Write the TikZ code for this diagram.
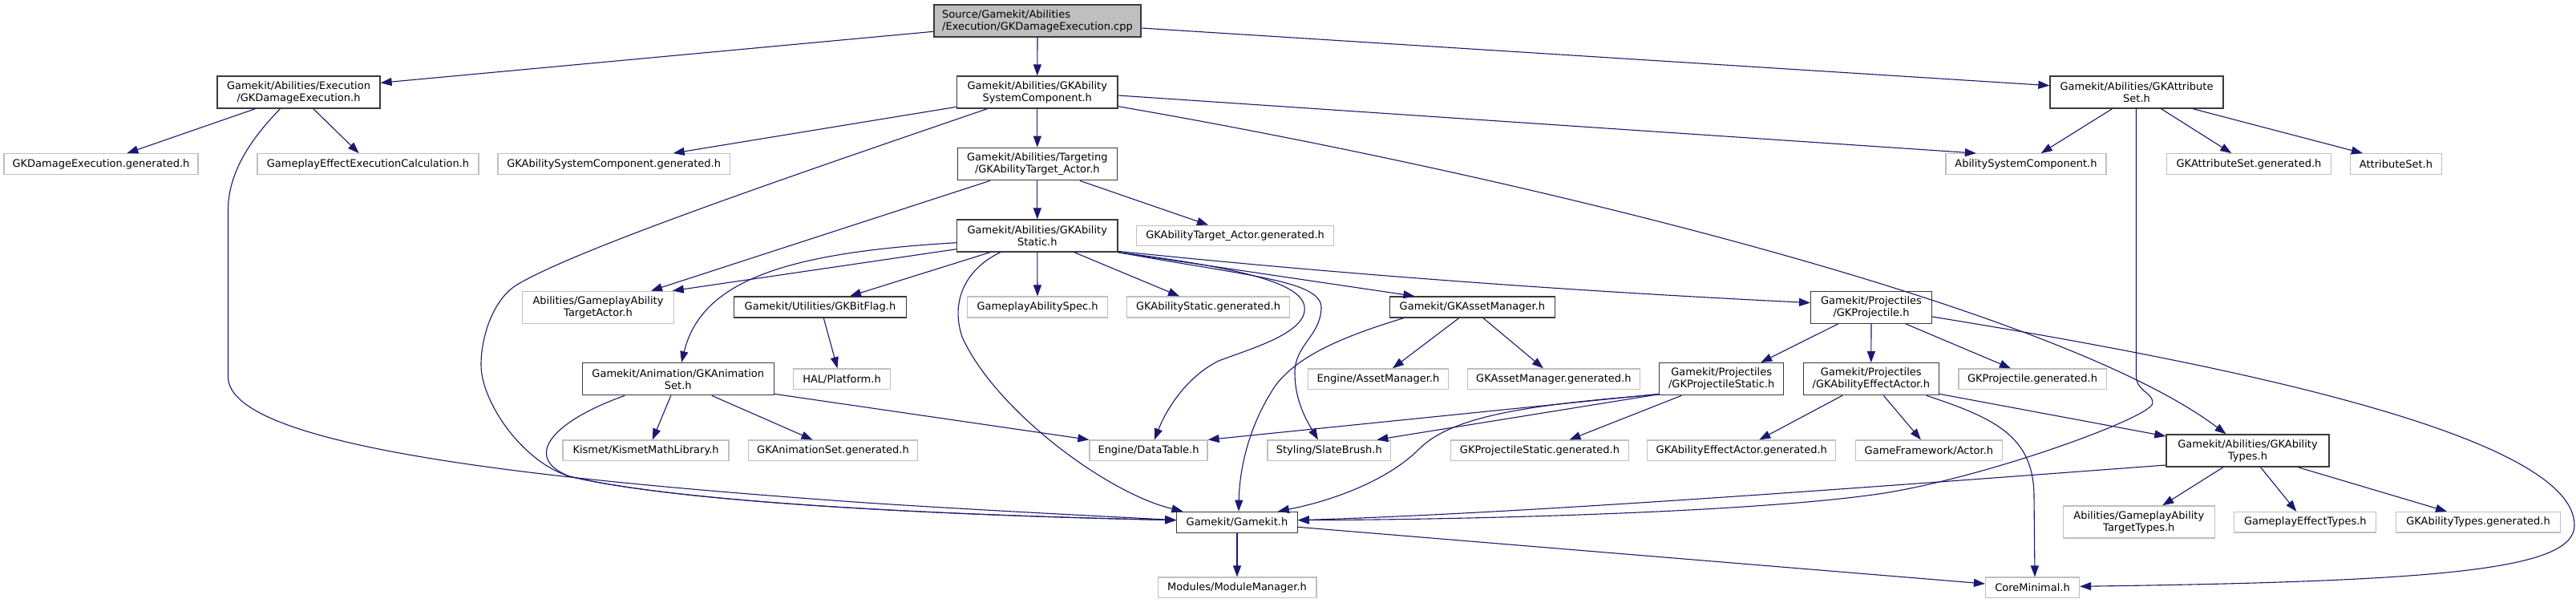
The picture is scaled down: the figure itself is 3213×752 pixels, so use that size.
\documentclass[tikz,border=0pt]{standalone}
\usepackage{fontspec}
\setmainfont{DejaVu Sans}
\usetikzlibrary{arrows.meta,calc}
\definecolor{edgec}{HTML}{191970}
\definecolor{docc}{HTML}{3A3A3A}
\definecolor{extc}{HTML}{BFBFBF}
\definecolor{rootfill}{HTML}{BFBFBF}
\newcommand{\mknode}[6]{\node[#1, minimum width=#4pt, minimum height=#5pt] (#2) at (#3) {#6};}
\begin{document}
\begin{tikzpicture}[x=1pt,y=-1pt,
  every node/.style={font=\fontsize{13}{15}\selectfont, inner sep=0pt, align=center, text=black},
  docbox/.style={draw=docc, line width=1.3pt, fill=white},
  extbox/.style={draw=extc, line width=1.3pt, fill=white},
  rootbox/.style={draw=docc, line width=1.3pt, fill=rootfill, align=left},
  edge/.style={draw=edgec, line width=1.1pt, -{Triangle[length=14pt,width=10pt]}}]
\fill[white] (0,0) rectangle (3213,752);
\useasboundingbox (0,0) rectangle (3213,752);
% nodes
\mknode{rootbox}{root}{1294,26}{258}{40}{Source/Gamekit/Abilities\\/Execution/GKDamageExecution.cpp}
\mknode{docbox}{DE}{372.5,115}{203}{40}{Gamekit/Abilities/Execution\\/GKDamageExecution.h}
\mknode{docbox}{ASC}{1293.8,115}{200.4}{40}{Gamekit/Abilities/GKAbility\\SystemComponent.h}
\mknode{docbox}{AS}{2665,115}{216}{40}{Gamekit/Abilities/GKAttribute\\Set.h}
\mknode{extbox}{DEgen}{126,204.5}{242}{25.5}{GKDamageExecution.generated.h}
\mknode{extbox}{GEEC}{459,204.5}{276}{25.5}{GameplayEffectExecutionCalculation.h}
\mknode{extbox}{ASCgen}{765.7,204.5}{289.6}{25.5}{GKAbilitySystemComponent.generated.h}
\mknode{extbox}{ASCext}{2527,204.5}{200}{25.5}{AbilitySystemComponent.h}
\mknode{extbox}{ASgen}{2805,204.5}{204.6}{25.5}{GKAttributeSet.generated.h}
\mknode{extbox}{AttrSet}{2988.5,204.5}{113.7}{25.5}{AttributeSet.h}
\mknode{docbox}{TA}{1293.8,204.5}{199}{40.4}{Gamekit/Abilities/Targeting\\/GKAbilityTarget\_Actor.h}
\mknode{extbox}{TAgen}{1540.6,294}{245.6}{25.5}{GKAbilityTarget\_Actor.generated.h}
\mknode{docbox}{Static}{1293.8,294}{200.4}{40}{Gamekit/Abilities/GKAbility\\Static.h}
\mknode{extbox}{GATA}{746,383.3}{188.4}{40}{Abilities/GameplayAbility\\TargetActor.h}
\mknode{docbox}{BitFlag}{1023,383}{215.3}{26}{Gamekit/Utilities/GKBitFlag.h}
\mknode{extbox}{GASpec}{1294,383}{174.6}{26}{GameplayAbilitySpec.h}
\mknode{extbox}{ASgen2}{1507,383}{202.4}{26}{GKAbilityStatic.generated.h}
\mknode{docbox}{AM}{1836.4,383}{205.6}{26}{Gamekit/GKAssetManager.h}
\mknode{docbox}{Proj}{2334,383.3}{150.8}{40}{Gamekit/Projectiles\\/GKProjectile.h}
\mknode{docbox}{AnimSet}{845.8,472.7}{239}{40}{Gamekit/Animation/GKAnimation\\Set.h}
\mknode{extbox}{HAL}{1050,472.7}{120.6}{25.5}{HAL/Platform.h}
\mknode{extbox}{EngAM}{1719,472.7}{175}{25.5}{Engine/AssetManager.h}
\mknode{extbox}{AMgen}{1937.9,472.7}{215}{25.5}{GKAssetManager.generated.h}
\mknode{docbox}{PS}{2147.2,472.7}{155}{40}{Gamekit/Projectiles\\/GKProjectileStatic.h}
\mknode{docbox}{AEA}{2333.8,472.7}{169}{40}{Gamekit/Projectiles\\/GKAbilityEffectActor.h}
\mknode{extbox}{ProjGen}{2535,472.7}{184.3}{25.5}{GKProjectile.generated.h}
\mknode{extbox}{Kismet}{805.6,561.8}{207}{25.5}{Kismet/KismetMathLibrary.h}
\mknode{extbox}{AnimGen}{1039,561.8}{211}{25.5}{GKAnimationSet.generated.h}
\mknode{extbox}{DT}{1432.5,561.8}{147}{25.5}{Engine/DataTable.h}
\mknode{extbox}{SB}{1657.8,561.8}{153.7}{25.5}{Styling/SlateBrush.h}
\mknode{extbox}{PSgen}{1920.5,561.8}{221.5}{25.5}{GKProjectileStatic.generated.h}
\mknode{extbox}{AEAgen}{2172.3,561.8}{235}{25.5}{GKAbilityEffectActor.generated.h}
\mknode{extbox}{Actor}{2405.9,561.8}{182.5}{25.5}{GameFramework/Actor.h}
\mknode{docbox}{Types}{2803.5,562}{203}{40}{Gamekit/Abilities/GKAbility\\Types.h}
\mknode{docbox}{GK}{1543,651.3}{150.5}{26}{Gamekit/Gamekit.h}
\mknode{extbox}{GATT}{2667.8,651}{189}{40}{Abilities/GameplayAbility\\TargetTypes.h}
\mknode{extbox}{GET}{2875.3,651.3}{177}{25.5}{GameplayEffectTypes.h}
\mknode{extbox}{TGen}{3091,651.3}{205.6}{25.5}{GKAbilityTypes.generated.h}
\mknode{extbox}{MM}{1543,732.8}{197.7}{25.5}{Modules/ModuleManager.h}
\mknode{extbox}{CM}{2535,732.8}{117}{25.5}{CoreMinimal.h}
% edges
\draw[edge] ($(root.west)+(0,13.3)$) -- ($(DE.east)+(0,-11.7)$);
\draw[edge] (root.south) -- (ASC.north);
\draw[edge] ($(root.east)+(0,9)$) -- ($(AS.west)+(0,-8.3)$);
\draw[edge] ($(DE.south)+(-54,0)$) -- ($(DEgen.north)+(32.4,0)$);
\draw[edge] ($(DE.south)+(18.3,0)$) -- ($(GEEC.north)+(-11.3,0)$);
\draw[edge] ($(DE.south)+(-23,0)$) .. controls (320,166) and (284.5,210) .. (284.5,262) -- (284.5,470) .. controls (284.5,560) and (700,600) .. (1080,627) .. controls (1250,638) and (1400,645) .. ($(GK.west)+(0,-2.6)$);
\draw[edge] ($(ASC.west)+(0,18.3)$) -- ($(ASCgen.north)+(74,0)$);
\draw[edge] (ASC.south) -- (TA.north);
\draw[edge] ($(ASC.east)+(0,4)$) -- ($(ASCext.north)+(-62.2,0)$);
\draw[edge] ($(ASC.east)+(0,17.7)$) .. controls (1900,220) and (2570,385) .. ($(Types.north)+(-27,0)$);
\draw[edge] ($(ASC.south)+(-62.3,0)$) .. controls (1000,215) and (720,310) .. (645,355) .. controls (615,373) and (600,420) .. (600,455) .. controls (600,500) and (650,575) .. (710,594) .. controls (850,628) and (1200,643) .. ($(GK.west)+(0,-2.6)$);
\draw[edge] ($(TA.south)+(-58.8,0)$) -- ($(GATA.north)+(66,0)$);
\draw[edge] (TA.south) -- (Static.north);
\draw[edge] ($(TA.south)+(53,0)$) -- ($(TAgen.north)+(-33.6,0)$);
\draw[edge] ($(Static.west)+(0,8.7)$) .. controls (980,315) and (875,350) .. ($(AnimSet.north)+(4.2,0)$);
\draw[edge] ($(Static.west)+(0,16.7)$) -- ($(GATA.north east)+(-2,0)$);
\draw[edge] ($(Static.south)+(-58.8,0)$) -- ($(BitFlag.north)+(37,0)$);
\draw[edge] ($(Static.south)+(-46,0)$) .. controls (1205,335) and (1185,375) .. (1200,420) .. controls (1240,510) and (1380,615) .. ($(GK.north west)+(8.3,0)$);
\draw[edge] (Static.south) -- (GASpec.north);
\draw[edge] ($(Static.south)+(46,0)$) -- ($(ASgen2.north)+(-36,0)$);
\draw[edge] (Static.south east) -- ($(AM.north)+(-72,0)$);
\draw[edge] ($(Static.south east)+(0,-1.3)$) .. controls (1700,345) and (2000,365) .. ($(Proj.west)+(0,-5.7)$);
\draw[edge] (Static.south east) .. controls (1580,338) and (1640,360) .. (1625,395) .. controls (1612,420) and (1560,435) .. (1520,450) .. controls (1480,470) and (1455,510) .. ($(DT.north)+(7.4,0)$);
\draw[edge] (Static.south east) .. controls (1560,345) and (1650,350) .. (1648,385) .. controls (1646,420) and (1615,430) .. (1615,465) .. controls (1615,500) and (1630,525) .. ($(SB.north)+(-13.8,0)$);
\draw[edge] ($(BitFlag.south)+(4.3,0)$) -- ($(HAL.north)+(-5.5,0)$);
\draw[edge] ($(AnimSet.south)+(-66.5,0)$) .. controls (690,525) and (650,570) .. (710,594) .. controls (850,628) and (1200,643) .. ($(GK.west)+(0,-2.6)$);
\draw[edge] ($(AnimSet.south)+(-9,0)$) -- ($(Kismet.north)+(8.2,0)$);
\draw[edge] ($(AnimSet.south)+(42,0)$) -- ($(AnimGen.north)+(-25.5,0)$);
\draw[edge] ($(AnimSet.east)+(0,18.6)$) -- (DT.north west);
\draw[edge] ($(AM.south)+(-16.7,0)$) -- ($(EngAM.north)+(18,0)$);
\draw[edge] ($(AM.south)+(13.6,0)$) -- ($(AMgen.north)+(-13,0)$);
\draw[edge] ($(AM.south)+(-85.5,0)$) .. controls (1680,418) and (1610,445) .. (1585,490) .. controls (1560,530) and (1546,580) .. ($(GK.north)+(2,0)$);
\draw[edge] ($(Proj.south)+(-41.4,0)$) -- ($(PS.north)+(49,0)$);
\draw[edge] (Proj.south) -- (AEA.north);
\draw[edge] ($(Proj.south)+(43,0)$) -- ($(ProjGen.north)+(-27,0)$);
\draw[edge] ($(Proj.east)+(0,11.7)$) .. controls (2750,450) and (3211,540) .. (3211,655) .. controls (3211,710) and (3050,725) .. ($(CM.east)+(0,-1.5)$);
\draw[edge] ($(PS.west)+(0,18.6)$) -- (DT.north east);
\draw[edge] ($(PS.west)+(0,19)$) -- ($(SB.north east)+(-18,0)$);
\draw[edge] ($(PS.south)+(-50,0)$) -- ($(PSgen.north)+(37,0)$);
\draw[edge] ($(PS.west)+(0,19.3)$) .. controls (1900,505) and (1810,520) .. (1770,560) .. controls (1730,600) and (1660,625) .. ($(GK.north east)+(-25,0)$);
\draw[edge] ($(AEA.south)+(-36,0)$) -- ($(AEAgen.north)+(22,0)$);
\draw[edge] ($(AEA.south)+(15.6,0)$) -- ($(Actor.north)+(-10,0)$);
\draw[edge] ($(AEA.south)+(69,0)$) .. controls (2490,522) and (2537,545) .. (2537,620) -- ($(CM.north)+(3,0)$);
\draw[edge] ($(AEA.east)+(0,18.6)$) -- ($(Types.west)+(0,-18)$);
\draw[edge] ($(Types.west)+(0,18)$) .. controls (2300,610) and (1900,640) .. ($(GK.east)+(0,-2.6)$);
\draw[edge] ($(AS.south)+(-30.5,0)$) -- ($(ASCext.north)+(18.7,0)$);
\draw[edge] ($(AS.south)+(30.5,0)$) -- ($(ASgen.north)+(-21.7,0)$);
\draw[edge] ($(AS.south)+(70,0)$) -- ($(AttrSet.north)+(-41.6,0)$);
\draw[edge] ($(AS.south)+(-0.5,0)$) -- (2664.5,470) .. controls (2664.5,488) and (2690,492) .. (2684,505) .. controls (2670,525) and (2480,594) .. (2350,615) .. controls (2200,638) and (1850,648) .. ($(GK.east)+(0,-2.6)$);
\draw[edge] ($(Types.south)+(-30.5,0)$) -- ($(GATT.north)+(29.4,0)$);
\draw[edge] ($(Types.south)+(16,0)$) -- ($(GET.north)+(-11,0)$);
\draw[edge] ($(Types.south)+(62.5,0)$) -- ($(TGen.north)+(-39,0)$);
\draw[edge] (GK.south) -- (MM.north);
\draw[edge] ($(GK.east)+(0,6)$) -- ($(CM.west)+(0,-4.8)$);
\end{tikzpicture}
\end{document}
